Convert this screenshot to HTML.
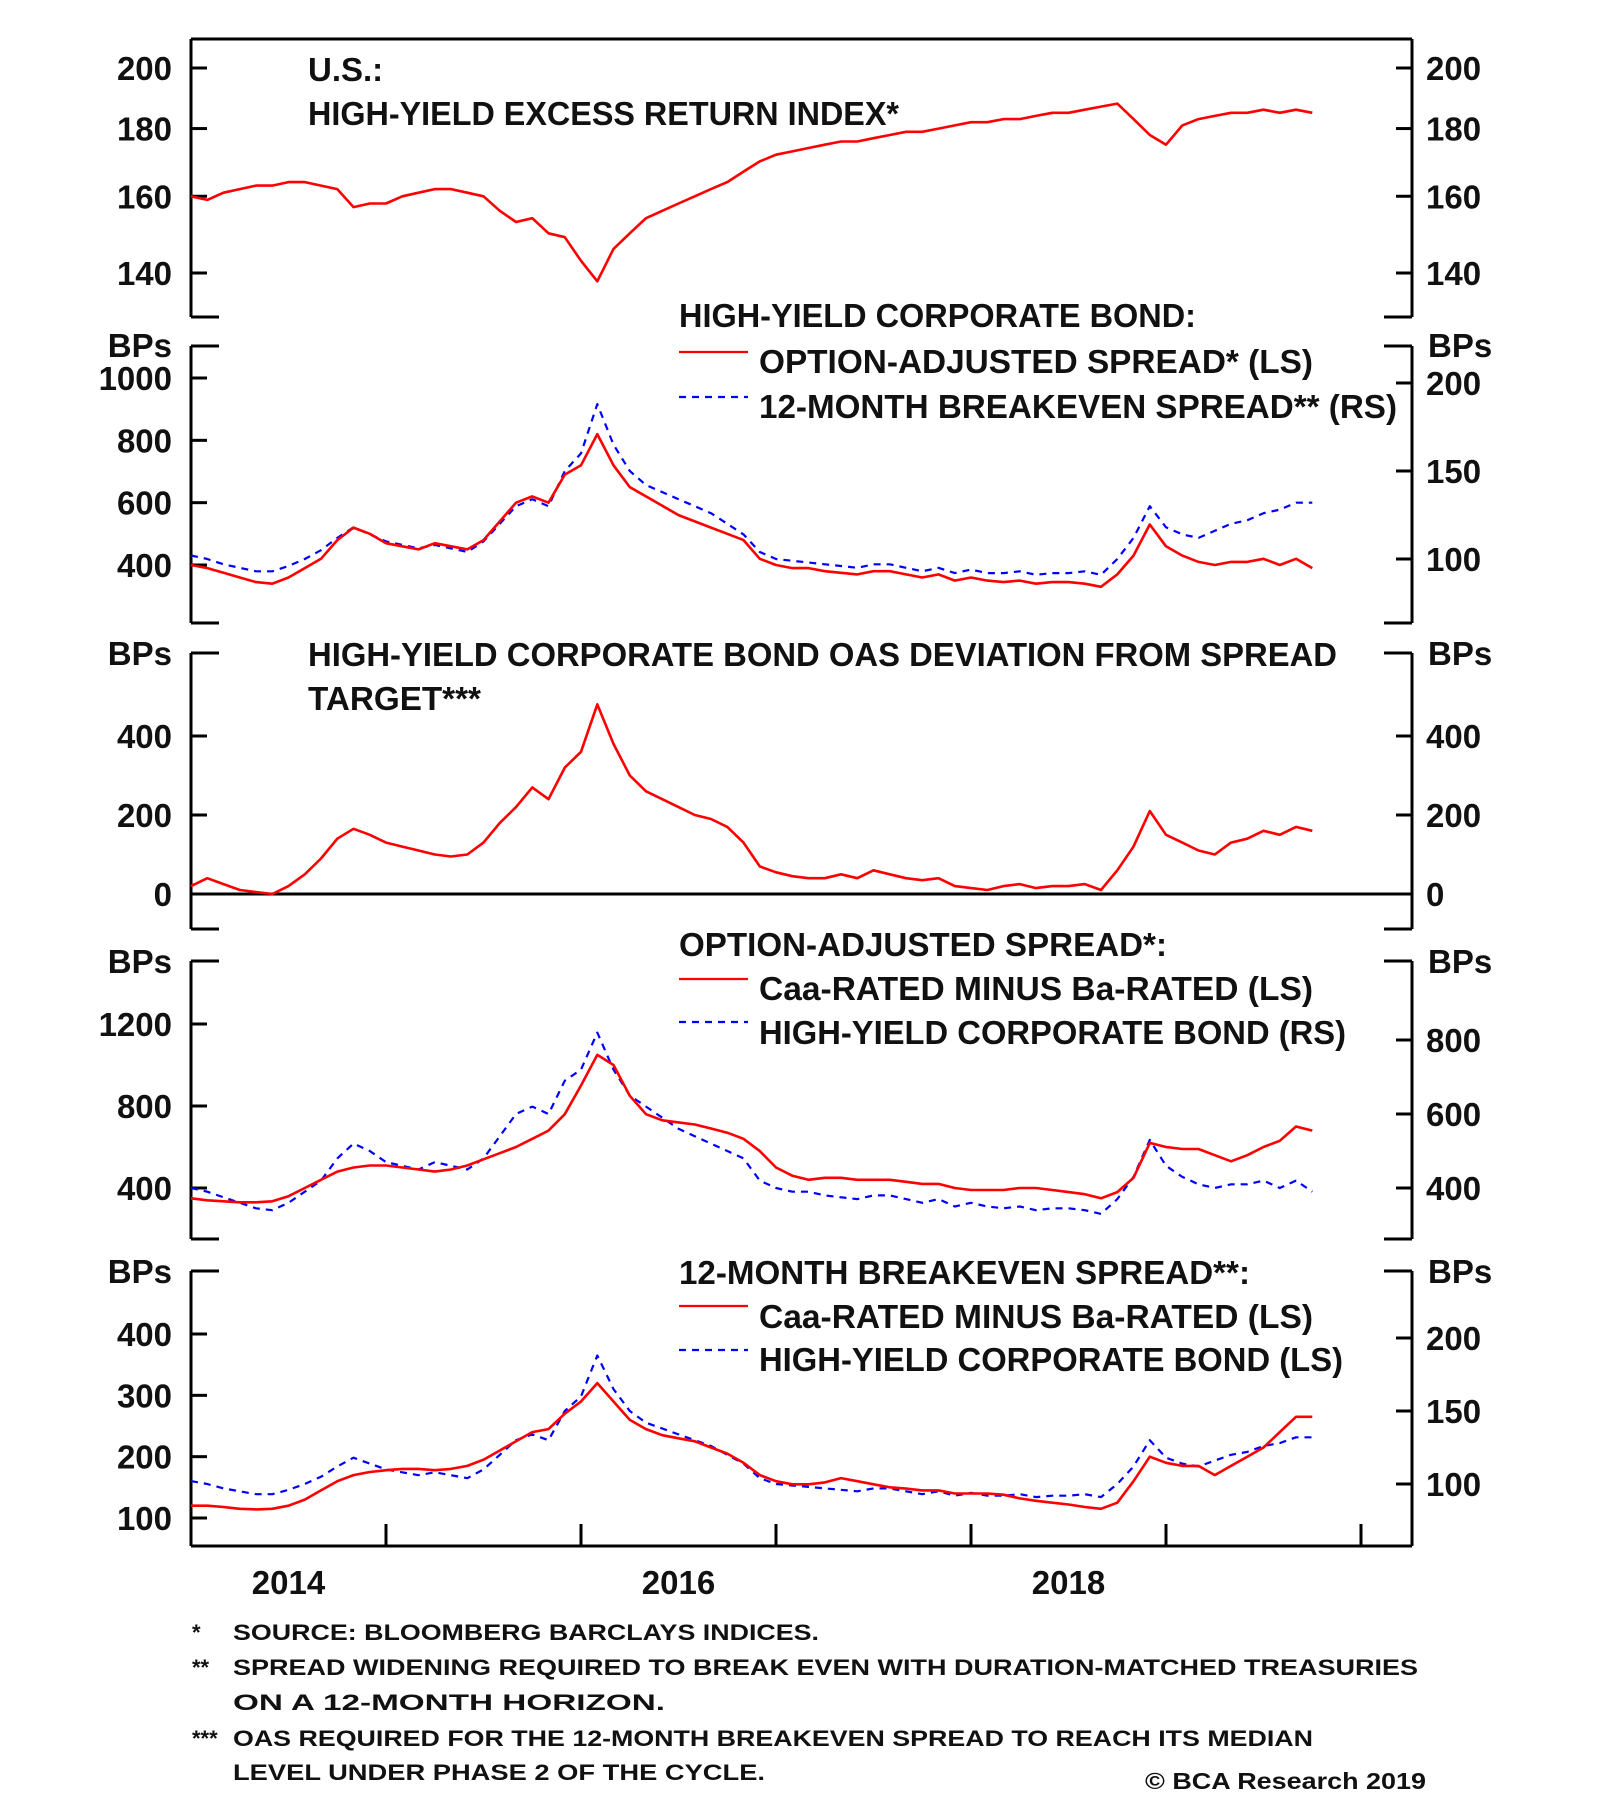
<!DOCTYPE html>
<html><head><meta charset="utf-8"><style>
html,body{margin:0;padding:0;background:#fff;}
svg{display:block;font-family:"Liberation Sans",sans-serif;font-weight:bold;}
</style></head><body>
<svg id="chart" width="1600" height="1802" viewBox="0 0 1600 1802" xmlns="http://www.w3.org/2000/svg">
<g id="frames" stroke="#000" stroke-width="3" fill="none"></g>
<g id="texts" fill="#111"></g>
<g id="series"></g>
</svg>
<script>
// ---- data (monthly, Jan 2014 .. Oct 2019) ----
const startYear = 2014;
const yearLabels = ["2014","2016","2018"];
const excessReturn = [160,159,161,162,163,163,164,164,163,162,157,158,
 158,160,161,162,162,161,160,156,153,154,150,149,
 143,138,146,150,154,156,158,160,162,164,167,170,
 172,173,174,175,176,176,177,178,179,179,180,181,
 182,182,183,183,184,185,185,186,187,188,183,178,
 175,181,183,184,185,185,186,185,186,185];
const oas = [400,390,375,360,345,340,360,390,420,480,520,500,
 470,460,450,470,460,450,480,540,600,620,600,690,
 720,820,720,650,620,590,560,540,520,500,480,420,
 400,390,390,380,375,370,380,380,370,360,370,350,
 360,350,345,350,340,345,345,340,330,370,430,530,
 460,430,410,400,410,410,420,400,420,390];
const breakeven = [102,100,97,95,93,93,96,100,105,112,118,114,
 110,108,106,108,106,104,110,120,130,134,130,150,
 160,188,165,150,142,138,134,130,126,120,114,104,
 100,99,98,97,96,95,97,97,95,93,95,92,
 94,92,92,93,91,92,92,93,91,100,112,130,
 118,114,112,116,120,122,126,128,132,132];
const deviation = [20,40,25,10,5,0,20,50,90,140,165,150,
 130,120,110,100,95,100,130,180,220,270,240,320,
 360,480,380,300,260,240,220,200,190,170,130,70,
 55,45,40,40,50,40,60,50,40,35,40,20,
 15,10,20,25,15,20,20,25,10,60,120,210,
 150,130,110,100,130,140,160,150,170,160];
const caaBaOas = [350,340,335,330,330,335,360,400,440,480,500,510,
 510,500,490,480,490,510,540,570,600,640,680,760,
 900,1050,1000,850,760,730,720,710,690,670,640,580,
 500,460,440,450,450,440,440,440,430,420,420,400,
 390,390,390,400,400,390,380,370,350,380,450,620,
 600,590,590,560,530,560,600,630,700,680];
const caaBaBreakeven = [120,120,118,115,114,115,120,130,145,160,170,175,
 178,180,180,178,180,185,195,210,225,240,245,270,
 290,320,290,260,245,235,230,225,215,205,190,170,
 160,155,155,158,165,160,155,150,148,145,145,140,
 140,140,138,132,128,125,122,118,115,125,160,200,
 190,185,185,170,185,200,215,240,265,265];
const p1Ticks = [140,160,180,200];
const p2LeftTicks = [400,600,800,1000];
const p2RightTicks = [100,150,200];
const p3Ticks = [0,200,400];
const p4LeftTicks = [400,800,1200];
const p4RightTicks = [400,600,800];
const p5LeftTicks = [100,200,300,400];
const p5RightTicks = [100,150,200];

// ---- layout ----
const NS = "http://www.w3.org/2000/svg";
const L = 191, R = 1412, TICK = 16, BR = 28;
const X0 = 191, PX_PER_YEAR = 195;
const frames = document.getElementById('frames');
const texts = document.getElementById('texts');
const series = document.getElementById('series');
function xm(i){ return X0 + i * PX_PER_YEAR / 12; }
function lin(v0,p0,v1,p1){ return v => p0 + (v - v0) * (p1 - p0) / (v1 - v0); }
function logs(v0,p0,v1,p1){ return v => p0 + (Math.log(v) - Math.log(v0)) * (p1 - p0) / (Math.log(v1) - Math.log(v0)); }
function mk(tag, attrs, parent){ const e = document.createElementNS(NS, tag); for (const k in attrs) e.setAttribute(k, attrs[k]); parent.appendChild(e); return e; }
function line(x1,y1,x2,y2,name){
  const e = mk('line',{x1,y1,x2,y2},frames);
  
  
}
function txt(s,x,y,size,anchor,name,len){
  const e = mk('text',{x,y,'font-size':size,'text-anchor':anchor||'start'},texts);
  if (len) { e.setAttribute('textLength', len); e.setAttribute('lengthAdjust','spacingAndGlyphs'); }
  e.textContent = s;
  
  
}
function frame(top,bottom,fullTop,fullBottom,pname){
  line(L,top,L,bottom,pname+'-left-axis');
  line(R,top,R,bottom,pname+'-right-axis');
  if (fullTop) line(L,top,R,top,pname+'-top-border'); else { line(L,top,L+BR,top,pname+'-top-left-bracket'); line(R-BR,top,R,top,pname+'-top-right-bracket'); }
  if (fullBottom) line(L,bottom,R,bottom,pname+'-bottom-border'); else { line(L,bottom,L+BR,bottom,pname+'-bottom-left-bracket'); line(R-BR,bottom,R,bottom,pname+'-bottom-right-bracket'); }
}
function leftTicks(ticks,scale,pname){
  ticks.forEach(v => { const y = scale(v); line(L,y,L+TICK,y,pname+'-left-tick'); txt(String(v),172,y+12,33,'end',pname+'-left-tick-label'); });
}
function rightTicks(ticks,scale,pname){
  ticks.forEach(v => { const y = scale(v); line(R-TICK,y,R,y,pname+'-right-tick'); txt(String(v),1426,y+12,33,'start',pname+'-right-tick-label'); });
}
function path(vals,scale,color,dash,name){
  const d = vals.map((v,i) => (i ? 'L' : 'M') + xm(i).toFixed(1) + ' ' + scale(v).toFixed(1)).join(' ');
  const e = mk('path',{d,fill:'none',stroke:color,'stroke-width':dash?2.2:2.6,'stroke-linejoin':'round'},series);
  if (dash) e.setAttribute('stroke-dasharray', dash);
  
  
}
function legendSwatch(x1,x2,y,color,dash,name){
  const e = mk('line',{x1,y1:y,x2,y2:y,stroke:color,'stroke-width':2.2},series);
  if (dash) e.setAttribute('stroke-dasharray', dash);
  
  
}
const DASH = '7,6';

// Panel 1
frame(39,317,true,false,'panel1');
const s1 = logs(140,273,200,68);
leftTicks(p1Ticks,s1,'panel1'); rightTicks(p1Ticks,s1,'panel1');
txt('U.S.:',308,81,33,'start','panel1-title-line1');
txt('HIGH-YIELD EXCESS RETURN INDEX*',308,125,33,'start','panel1-title-line2',591);
path(excessReturn,s1,'#f00',null,'excess-return-line');

// Panel 2
frame(346,623,false,false,'panel2');
const s2L = lin(400,565,1000,378), s2R = lin(100,559,200,383);
leftTicks(p2LeftTicks,s2L,'panel2'); rightTicks(p2RightTicks,s2R,'panel2');
txt('BPs',172,357,33,'end','panel2-left-unit'); txt('BPs',1428,357,33,'start','panel2-right-unit');
txt('HIGH-YIELD CORPORATE BOND:',679,327,33,'start','panel2-legend-title',517);
legendSwatch(679,748,352,'#f00',null,'panel2-legend-oas-swatch');
txt('OPTION-ADJUSTED SPREAD* (LS)',759,373,33,'start','panel2-legend-oas',554);
legendSwatch(679,748,397,'#00f',DASH,'panel2-legend-breakeven-swatch');
txt('12-MONTH BREAKEVEN SPREAD** (RS)',759,418,33,'start','panel2-legend-breakeven',638);
path(breakeven,s2R,'#00f',DASH,'breakeven-spread-line');
path(oas,s2L,'#f00',null,'oas-line');

// Panel 3
frame(653,929,false,false,'panel3');
const s3 = lin(0,894,400,736);
leftTicks(p3Ticks,s3,'panel3'); rightTicks(p3Ticks,s3,'panel3');
line(L,s3(0),R,s3(0),'panel3-zero-line');
txt('BPs',172,665,33,'end','panel3-left-unit'); txt('BPs',1428,665,33,'start','panel3-right-unit');
txt('HIGH-YIELD CORPORATE BOND OAS DEVIATION FROM SPREAD',308,666,33,'start','panel3-title-line1',1029);
txt('TARGET***',308,710,33,'start','panel3-title-line2',173);
path(deviation,s3,'#f00',null,'oas-deviation-line');

// Panel 4
frame(961,1239,false,false,'panel4');
const s4L = lin(400,1188,1200,1024), s4R = lin(400,1188,800,1040);
leftTicks(p4LeftTicks,s4L,'panel4'); rightTicks(p4RightTicks,s4R,'panel4');
txt('BPs',172,973,33,'end','panel4-left-unit'); txt('BPs',1428,973,33,'start','panel4-right-unit');
txt('OPTION-ADJUSTED SPREAD*:',679,956,33,'start','panel4-legend-title',488);
legendSwatch(679,748,979,'#f00',null,'panel4-legend-caa-swatch');
txt('Caa-RATED MINUS Ba-RATED (LS)',759,1000,33,'start','panel4-legend-caa',554);
legendSwatch(679,748,1022,'#00f',DASH,'panel4-legend-hy-swatch');
txt('HIGH-YIELD CORPORATE BOND (RS)',759,1044,33,'start','panel4-legend-hy',587);
path(oas,s4R,'#00f',DASH,'hy-oas-line');
path(caaBaOas,s4L,'#f00',null,'caa-ba-oas-line');

// Panel 5
frame(1271,1546,false,true,'panel5');
const s5L = lin(100,1518,400,1334), s5R = lin(100,1484,200,1338);
leftTicks(p5LeftTicks,s5L,'panel5'); rightTicks(p5RightTicks,s5R,'panel5');
txt('BPs',172,1283,33,'end','panel5-left-unit'); txt('BPs',1428,1283,33,'start','panel5-right-unit');
txt('12-MONTH BREAKEVEN SPREAD**:',679,1284,33,'start','panel5-legend-title',571);
legendSwatch(679,748,1306,'#f00',null,'panel5-legend-caa-swatch');
txt('Caa-RATED MINUS Ba-RATED (LS)',759,1328,33,'start','panel5-legend-caa',554);
legendSwatch(679,748,1350,'#00f',DASH,'panel5-legend-hy-swatch');
txt('HIGH-YIELD CORPORATE BOND (LS)',759,1371,33,'start','panel5-legend-hy',584);
path(breakeven,s5R,'#00f',DASH,'hy-breakeven-line');
path(caaBaBreakeven,s5L,'#f00',null,'caa-ba-breakeven-line');

// x axis
for (let y = 1; y <= 6; y++) { const x = X0 + y * PX_PER_YEAR; line(x,1546,x,1524,'x-axis-year-tick'); }
yearLabels.forEach(s => { const yr = +s; const x = X0 + (yr - startYear + 0.5) * PX_PER_YEAR; txt(s,x,1594,33,'middle','x-axis-label-'+s); });

// footnotes
txt('*',192,1640,22,'start','footnote-1-marker');
txt('SOURCE: BLOOMBERG BARCLAYS INDICES.',233,1640,22,'start','footnote-1',586);
txt('**',192,1675,22,'start','footnote-2-marker');
txt('SPREAD WIDENING REQUIRED TO BREAK EVEN WITH DURATION-MATCHED TREASURIES',233,1675,22,'start','footnote-2-line1',1185);
txt('ON A 12-MONTH HORIZON.',233,1710,22,'start','footnote-2-line2',432);
txt('***',192,1746,22,'start','footnote-3-marker');
txt('OAS REQUIRED FOR THE 12-MONTH BREAKEVEN SPREAD TO REACH ITS MEDIAN',233,1746,22,'start','footnote-3-line1',1080);
txt('LEVEL UNDER PHASE 2 OF THE CYCLE.',233,1780,22,'start','footnote-3-line2',532);
txt('© BCA Research 2019',1145,1789,23,'start','copyright',281);
</script>
</body></html>
